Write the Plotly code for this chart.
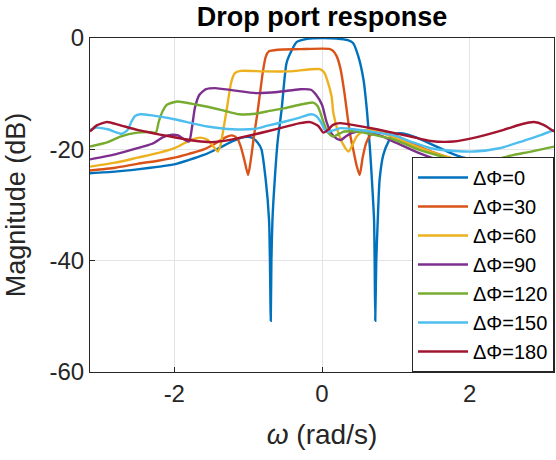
import plotly.graph_objects as go

PI = 3.14159265

series_names = ["ΔΦ=0", "ΔΦ=30", "ΔΦ=60", "ΔΦ=90", "ΔΦ=120", "ΔΦ=150", "ΔΦ=180"]
colors = ["#0072BD", "#D95319", "#EDB120", "#7E2F8E", "#77AC30", "#4DBEEE", "#A2142F"]

w0 = [-PI, -2.8, -2.5, -2.2, -2.0, -1.8, -1.6, -1.4, -1.2, -1.05, -0.95, -0.87, -0.82, -0.762, -0.717, -0.705, -0.694,
      -0.685, -0.671, -0.64, -0.60, -0.548, -0.48, -0.41, -0.34, -0.2, 0.0, 0.2, 0.35, 0.42, 0.494, 0.562, 0.608, 0.65,
      0.676, 0.705, 0.713, 0.721, 0.735, 0.755, 0.78, 0.83, 0.9, 0.97, 1.05, 1.15, 1.3, 1.5, 1.7, 1.85, 2.0, 2.3, 2.6, 2.9, PI]
m0 = [-24.3, -24.0, -23.6, -23.1, -22.7, -21.9, -21.0, -19.8, -18.5, -17.8, -17.9, -18.8, -20.0, -25.5, -32.7, -40.0, -50.8,
      -40.0, -32.7, -25.5, -18.5, -13.0, -4.5, -2.2, -0.7, -0.15, 0.0, -0.1, -0.4, -0.9, -3.4, -7.5, -13.0, -20.0,
      -25.5, -32.7, -40.0, -50.8, -40.0, -32.7, -25.5, -21.0, -18.6, -17.4, -17.1, -17.3, -18.0, -19.2, -20.4, -21.2, -21.8, -23.0, -23.8, -24.2, -24.3]

w30 = [-PI, -2.8, -2.5, -2.2, -2.0, -1.8, -1.6, -1.45, -1.3, -1.22, -1.15, -1.1, -1.05, -1.0, -0.96, -0.92, -0.88, -0.84,
       -0.8, -0.76, -0.72, -0.6, -0.3, 0.0, 0.1, 0.15, 0.2, 0.25, 0.3, 0.34, 0.38, 0.43, 0.47, 0.51, 0.55, 0.6, 0.66, 0.74,
       0.9, 1.1, 1.3, 1.5, 1.8, 2.1, 2.5, 2.9, PI]
m30 = [-23.8, -23.3, -22.6, -22.0, -21.5, -20.8, -20.0, -19.0, -17.8, -17.5, -18.0, -19.5, -22.0, -24.6, -21.5, -17.5,
       -14.0, -10.0, -6.0, -3.3, -2.4, -2.1, -2.0, -1.9, -1.95, -2.3, -3.3, -5.5, -9.5, -13.5, -17.3, -20.5, -23.0, -24.6,
       -21.5, -18.8, -17.4, -16.9, -17.2, -18.1, -19.4, -20.5, -21.8, -22.7, -23.4, -23.7, -23.8]

w60 = [-PI, -2.8, -2.5, -2.2, -2.0, -1.85, -1.75, -1.65, -1.55, -1.47, -1.41, -1.37, -1.33, -1.28, -1.23, -1.18, -1.1,
       -0.8, -0.44, -0.03, 0.03, 0.064, 0.13, 0.154, 0.22, 0.29, 0.36, 0.42, 0.47, 0.55, 0.61, 0.7, 0.85, 1.0, 1.3, 1.6,
       2.0, 2.5, PI]
m60 = [-23.1, -22.4, -21.5, -20.6, -19.8, -18.8, -18.2, -17.9, -18.3, -19.5, -20.4, -19.0, -16.0, -12.0, -8.0, -6.3, -5.9,
       -6.0, -6.0, -5.6, -6.2, -7.3, -10.5, -13.5, -17.0, -19.2, -20.4, -19.0, -17.7, -16.8, -16.5, -16.6, -17.2, -18.0, -19.6, -21.0,
       -22.3, -22.9, -23.1]

w90 = [-PI, -2.8, -2.5, -2.3, -2.15, -2.05, -1.95, -1.87, -1.8, -1.76, -1.72, -1.66, -1.57, -1.45, -1.2, -0.89, -0.6,
       -0.3, -0.15, -0.08, 0.0, 0.06, 0.12, 0.2, 0.26, 0.32, 0.4, 0.5, 0.6, 0.8, 1.0, 1.3, 1.6, 2.0, 2.5, PI]
m90 = [-21.8, -20.9, -19.8, -19.0, -17.8, -17.4, -17.5, -18.2, -18.6, -16.0, -12.5, -10.2, -9.2, -9.0, -9.4, -9.9, -9.7,
       -9.2, -9.3, -10.2, -12.0, -15.0, -17.0, -18.1, -18.3, -17.7, -17.1, -16.8, -16.9, -17.6, -18.8, -20.6, -22.0, -23.0, -22.8, -21.8]

w120 = [-PI, -2.9, -2.73, -2.5, -2.33, -2.25, -2.21, -2.16, -2.1, -1.96, -1.69, -1.37, -1.12, -0.9, -0.75, -0.5, -0.3,
        -0.12, -0.06, -0.02, 0.03, 0.08, 0.15, 0.22, 0.3, 0.5, 0.7, 0.97, 1.3, 1.6, 2.0, 2.38, 2.6, 2.83, PI]
m120 = [-19.5, -18.7, -17.7, -17.0, -16.9, -17.0, -15.0, -13.2, -12.0, -11.4, -12.0, -12.9, -13.7, -13.6, -13.2, -12.6, -12.0,
        -11.6, -12.2, -13.5, -15.5, -17.0, -17.7, -17.3, -16.8, -16.8, -17.4, -18.2, -20.0, -21.2, -22.6, -21.7, -21.0, -20.4, -19.5]

w150 = [-PI, -3.05, -2.9, -2.71, -2.63, -2.58, -2.53, -2.46, -2.3, -2.0, -1.55, -1.21, -0.9, -0.75, -0.5, -0.3, -0.15,
        -0.08, -0.02, 0.03, 0.07, 0.15, 0.25, 0.43, 0.7, 0.97, 1.2, 1.47, 1.8, 2.06, 2.4, 2.7, 2.95, PI]
m150 = [-16.5, -16.1, -16.4, -17.2, -16.5, -15.0, -14.0, -13.7, -13.9, -14.6, -15.9, -16.4, -16.3, -15.8, -15.0, -14.3, -13.7,
        -14.0, -15.0, -16.3, -16.9, -16.6, -16.2, -16.4, -16.9, -17.5, -18.6, -19.8, -20.3, -20.4, -19.8, -18.6, -17.5, -16.5]

w180 = [-PI, -3.05, -2.91, -2.75, -2.5, -2.05, -1.7, -1.5, -1.21, -0.75, -0.45, -0.3, -0.16, -0.05, 0.02, 0.08, 0.15,
        0.245, 0.45, 0.74, 1.2, 1.47, 1.78, 2.1, 2.46, 2.7, 2.87, 3.0, PI]
m180 = [-16.8, -15.7, -15.1, -15.6, -16.5, -17.7, -18.5, -18.7, -18.2, -16.8, -15.8, -15.3, -15.1, -15.8, -17.0, -16.5, -15.6,
        -15.3, -15.7, -16.4, -17.7, -18.5, -18.6, -17.8, -16.5, -15.5, -15.1, -15.6, -16.8]

x_tick_vals = [-2, 0, 2]
x_tick_text = ["-2", "0", "2"]
y_tick_vals = [-60, -40, -20, 0]
y_tick_text = ["-60", "-40", "-20", "0"]

all_w = [w0, w30, w60, w90, w120, w150, w180]
all_m = [m0, m30, m60, m90, m120, m150, m180]

fig = go.Figure()
for name, c, w, m in zip(series_names, colors, all_w, all_m):
    fig.add_trace(go.Scatter(x=w, y=m, mode="lines", name=name,
                             line=dict(color=c, width=2.4, shape="spline", smoothing=0.6)))

FONT = "Liberation Sans, Arial, Helvetica, sans-serif"
axis_common = dict(showline=True, mirror=True, linecolor="#262626", linewidth=1,
                   ticks="inside", ticklen=5, tickcolor="#262626", automargin=False,
                   showgrid=True, gridcolor="#e3e3e3", gridwidth=1, zeroline=False,
                   tickfont=dict(size=24, color="#262626", family=FONT))

fig.update_layout(
    width=556, height=460,
    margin=dict(l=90, r=2, t=38, b=88),
    paper_bgcolor="white", plot_bgcolor="white",
    font=dict(family=FONT, color="#262626"),
    title=dict(text="<b>Drop port response</b>", x=0.5, xref="paper", xanchor="center",
               y=1 - 17 / 460, yref="container", yanchor="middle",
               font=dict(size=27, color="#000000", family=FONT)),
    xaxis=dict(range=[-PI, PI], tickvals=x_tick_vals, ticktext=x_tick_text,
               title=dict(text="<i>ω</i> (rad/s)", font=dict(size=28, color="#262626", family=FONT), standoff=18),
               **axis_common),
    yaxis=dict(range=[-60, 0], tickvals=y_tick_vals, ticktext=y_tick_text,
               title=dict(text="Magnitude (dB)", font=dict(size=27, color="#262626", family=FONT), standoff=16),
               **axis_common),
    legend=dict(x=1.0, xanchor="right", y=0, yanchor="bottom", bgcolor="white",
                bordercolor="#262626", borderwidth=1, font=dict(size=20, color="#000000", family=FONT),
                tracegroupgap=0, itemwidth=50),
    showlegend=True,
)

fig.write_html("out.html", config={"displayModeBar": False},
               post_script="document.body.style.margin='0';document.body.style.overflow='hidden';")
